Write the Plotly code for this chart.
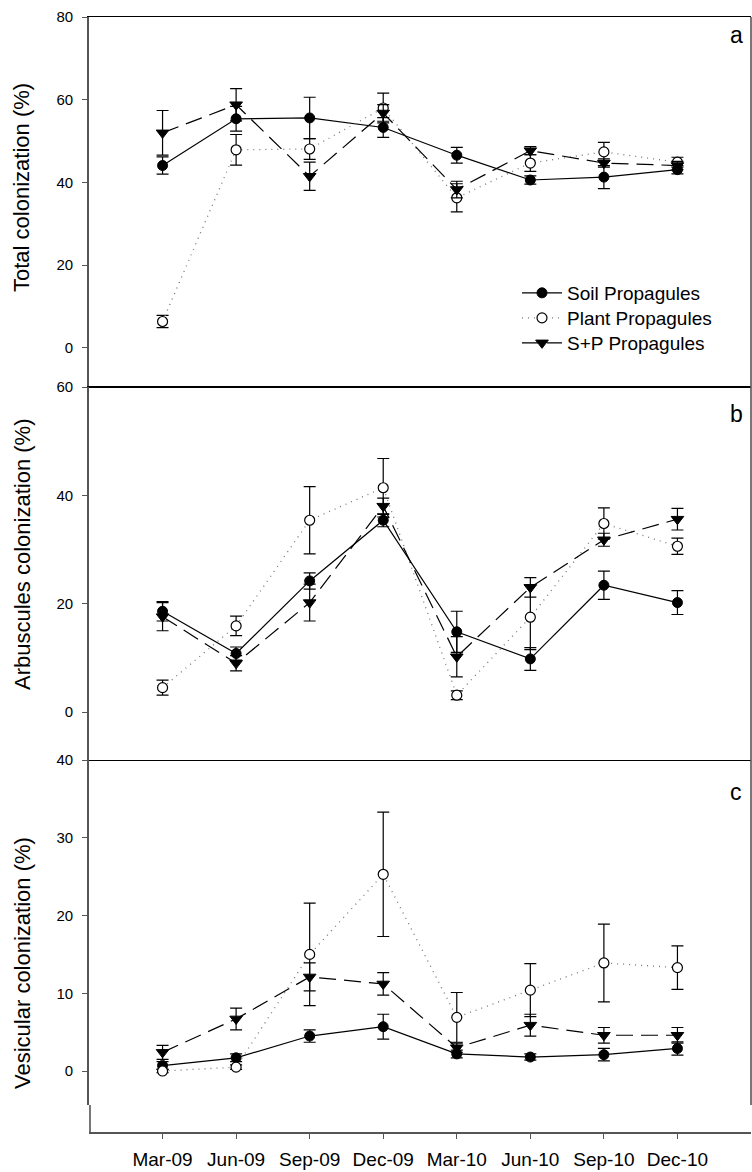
import plotly.graph_objects as go

months = ["Mar-09", "Jun-09", "Sep-09", "Dec-09", "Mar-10", "Jun-10", "Sep-10", "Dec-10"]
series_names = ["Soil Propagules", "Plant Propagules", "S+P Propagules"]

# Panel a: Total colonization (%)
soil_total = [44.1, 55.4, 55.6, 53.3, 46.6, 40.6, 41.3, 43.1]
soil_total_se = [2.1, 3.0, 5.0, 2.4, 1.9, 1.0, 2.8, 1.0]
plant_total = [6.4, 47.9, 48.1, 58.0, 36.3, 44.7, 47.4, 44.9]
plant_total_se = [1.5, 3.7, 2.5, 3.6, 3.4, 2.0, 2.3, 1.2]
sp_total = [52.0, 58.8, 41.5, 56.8, 38.3, 47.7, 44.7, 44.1]
sp_total_se = [5.4, 3.9, 3.4, 2.0, 2.0, 1.0, 1.0, 1.0]

# Panel b: Arbuscules colonization (%)
soil_arb = [18.6, 10.8, 24.2, 35.4, 14.8, 9.8, 23.4, 20.2]
soil_arb_se = [1.8, 1.2, 1.5, 1.2, 3.8, 2.1, 2.6, 2.2]
plant_arb = [4.5, 15.9, 35.4, 41.4, 3.1, 17.5, 34.8, 30.6]
plant_arb_se = [1.4, 1.8, 6.2, 5.4, 0.8, 6.0, 2.9, 1.5]
sp_arb = [17.6, 9.0, 20.2, 38.0, 10.2, 23.0, 31.8, 35.6]
sp_arb_se = [2.6, 1.4, 3.4, 1.5, 3.7, 1.8, 1.2, 2.0]

# Panel c: Vesicular colonization (%)
soil_ves = [0.7, 1.7, 4.5, 5.7, 2.2, 1.8, 2.1, 2.9]
soil_ves_se = [0.5, 0.5, 0.8, 1.6, 0.5, 0.4, 0.8, 0.85]
plant_ves = [0.0, 0.5, 15.0, 25.3, 6.9, 10.4, 13.9, 13.3]
plant_ves_se = [0.2, 0.3, 6.6, 8.0, 3.2, 3.4, 5.0, 2.8]
sp_ves = [2.4, 6.7, 12.1, 11.2, 3.0, 5.9, 4.6, 4.6]
sp_ves_se = [0.9, 1.4, 1.8, 1.45, 0.6, 1.4, 1.0, 1.0]

panel_titles = ["Total colonization (%)", "Arbuscules colonization (%)", "Vesicular colonization (%)"]
panel_letters = ["a", "b", "c"]

panels = [
    (soil_total, soil_total_se, plant_total, plant_total_se, sp_total, sp_total_se),
    (soil_arb, soil_arb_se, plant_arb, plant_arb_se, sp_arb, sp_arb_se),
    (soil_ves, soil_ves_se, plant_ves, plant_ves_se, sp_ves, sp_ves_se),
]

styles = [
    dict(line=dict(color="black", width=1.2),
         marker=dict(symbol="circle", size=10, color="black", line=dict(color="black", width=1))),
    dict(line=dict(color="#777777", width=1.3, dash="1px,5px"),
         marker=dict(symbol="circle", size=10, color="white", line=dict(color="black", width=1.2))),
    dict(line=dict(color="black", width=1.2, dash="17px,8px"),
         marker=dict(symbol="triangle-down", size=11, color="black", line=dict(color="black", width=1))),
]
legend_ids = ["legend", "legend2", "legend3"]

fig = go.Figure()
for p, data in enumerate(panels):
    xa = "x" if p == 0 else f"x{p+1}"
    ya = "y" if p == 0 else f"y{p+1}"
    for s in range(3):
        vals = data[2 * s]
        errs = data[2 * s + 1]
        fig.add_trace(go.Scatter(
            x=months, y=vals, xaxis=xa, yaxis=ya,
            mode="lines+markers", name=series_names[s],
            showlegend=(p == 0), legend=legend_ids[s],
            error_y=dict(type="data", array=errs, visible=True, color="black",
                         thickness=1.2, width=6),
            cliponaxis=False,
            **styles[s],
        ))

# geometry (paper from y=17 to 1133 px; plot area x from 89 to 751)
H = 1116.0
dom_a = [(1133 - 387) / H, 1.0]
dom_b = [(1133 - 760) / H, (1133 - 387) / H]
dom_c = [(1133 - 1105) / H, (1133 - 760) / H]

axis_col = "#555555"
tickfont = dict(family="Liberation Sans, Arial, sans-serif", size=15, color="black")

common_y = dict(showline=True, linecolor=axis_col, linewidth=1.6, mirror=False,
                ticks="outside", ticklen=5, tickwidth=1.2, tickcolor=axis_col,
                showgrid=False, zeroline=False, tickfont=tickfont, ticklabelstandoff=6)

def legend_at(center_px):
    return dict(x=(517 - 89) / 662, y=(1133 - (center_px - 19)) / H, xanchor="left", yanchor="top",
                bgcolor="rgba(0,0,0,0)", font=dict(size=19), itemwidth=40)

fig.update_layout(
    width=752, height=1172,
    margin=dict(l=89, r=1, t=17, b=39),
    paper_bgcolor="white", plot_bgcolor="white",
    font=dict(family="Liberation Sans, Arial, sans-serif", color="black"),
    showlegend=True,
    legend=legend_at(293),
    legend2=legend_at(318),
    legend3=legend_at(343),
    xaxis=dict(domain=[0, 1], anchor="y", type="category", range=[-1, 8],
               showline=True, mirror=True, linecolor="black", linewidth=1.2,
               ticks="", showticklabels=False, showgrid=False, zeroline=False),
    xaxis2=dict(domain=[0, 1], anchor="y2", type="category", range=[-1, 8],
                showline=True, mirror=True, linecolor="black", linewidth=1.2,
                ticks="", showticklabels=False, showgrid=False, zeroline=False),
    xaxis3=dict(domain=[0, 1], anchor="free", position=0, type="category", range=[-1, 8],
                showline=True, linecolor=axis_col, linewidth=1.6,
                ticks="outside", ticklen=5, tickwidth=1.2, tickcolor=axis_col,
                tickfont=dict(family="Liberation Sans, Arial, sans-serif", size=19, color="black"),
                showgrid=False, zeroline=False, ticklabelstandoff=4),
    yaxis=dict(domain=dom_a, anchor="x", range=[-9.43, 80], tickvals=[0, 20, 40, 60, 80], **common_y),
    yaxis2=dict(domain=dom_b, anchor="x2", range=[-8.86, 60], tickvals=[0, 20, 40, 60], **common_y),
    yaxis3=dict(domain=dom_c, anchor="x3", range=[-4.37, 40], tickvals=[0, 10, 20, 30, 40], **common_y),
)

# right border of the panels and bottom-left frame piece
fig.add_shape(type="line", xref="paper", yref="paper", x0=1, x1=1, y0=dom_c[0], y1=1,
              line=dict(color=axis_col, width=1.6))
fig.add_shape(type="line", xref="paper", yref="paper", x0=0.0015, x1=0.0015, y0=0, y1=dom_c[0],
              line=dict(color=axis_col, width=1.6))

title_y = [(1133 - 188) / H, (1133 - 555) / H, (1133 - 963) / H]
for t, ty in zip(panel_titles, title_y):
    fig.add_annotation(text=t, xref="paper", yref="paper", x=(22 - 89) / 662, y=ty,
                       xanchor="center", yanchor="middle", textangle=-90, showarrow=False,
                       font=dict(family="Liberation Sans Narrow, Arial Narrow, Liberation Sans, sans-serif",
                                 size=22, color="black"))

letter_y = [(1133 - 35) / H, (1133 - 414) / H, (1133 - 792) / H]
for l, ly in zip(panel_letters, letter_y):
    fig.add_annotation(text=l, xref="paper", yref="paper", x=(736 - 89) / 662, y=ly,
                       xanchor="center", yanchor="middle", showarrow=False,
                       font=dict(family="Liberation Sans, Arial, sans-serif", size=23, color="black"))

fig.write_html("out.html")
